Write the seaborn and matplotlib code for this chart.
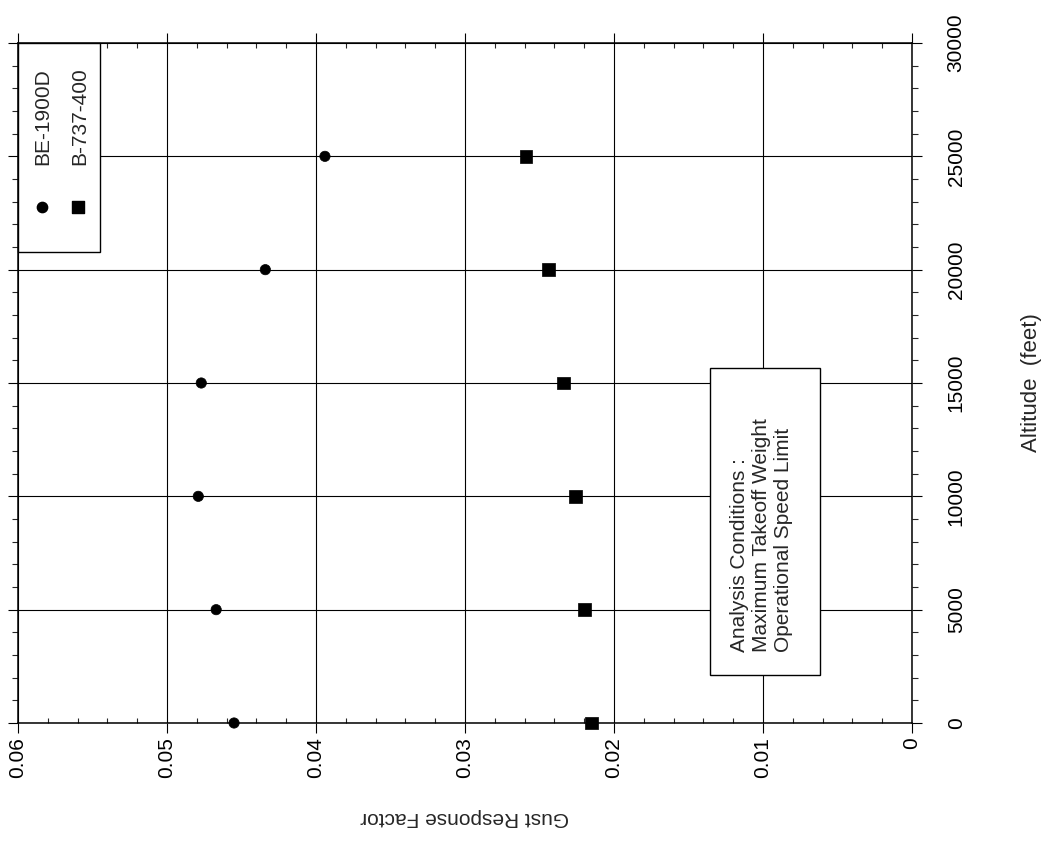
import matplotlib
matplotlib.use("Agg")
import matplotlib.pyplot as plt
import numpy as np
import pandas as pd
import seaborn as sns
from matplotlib.ticker import MultipleLocator
from matplotlib.patches import Rectangle

# ---- data ----
altitudes = [0, 5000, 10000, 15000, 20000, 25000]
be1900d = [0.0455, 0.0467, 0.0479, 0.0477, 0.0434, 0.0394]
b737_400 = [0.0215, 0.0220, 0.0226, 0.0234, 0.0244, 0.0259]
series_names = ["BE-1900D", "B-737-400"]
grf_ticks = [0, 0.01, 0.02, 0.03, 0.04, 0.05, 0.06]
grf_labels = ["0", "0.01", "0.02", "0.03", "0.04", "0.05", "0.06"]
alt_ticks = [0, 5000, 10000, 15000, 20000, 25000, 30000]
alt_labels = ["0", "5000", "10000", "15000", "20000", "25000", "30000"]
note_lines = ["Analysis Conditions :", "Maximum Takeoff Weight", "Operational Speed Limit"]

df = pd.DataFrame({
    "altitude": altitudes * 2,
    "grf": be1900d + b737_400,
    "aircraft": [series_names[0]] * len(altitudes) + [series_names[1]] * len(altitudes),
})

sns.set_style("ticks")
plt.rcParams["font.family"] = ["Liberation Sans", "DejaVu Sans"]

W, H = 1045, 846
fig = plt.figure(figsize=(W / 100, H / 100), dpi=100)
L, R, T, B = 18, 912, 43, 723
ax = fig.add_axes([L / W, (H - B) / H, (R - L) / W, (B - T) / H])

sns.scatterplot(
    data=df, x="grf", y="altitude", style="aircraft", size="aircraft",
    markers={series_names[0]: "o", series_names[1]: "s"},
    sizes={series_names[0]: 55, series_names[1]: 85},
    color="black", edgecolor="black", linewidth=0.5,
    legend=False, ax=ax, clip_on=False, zorder=3,
)

ax.set_xlim(0.06, 0)
ax.set_ylim(0, 30000)
ax.set_xticks(grf_ticks)
ax.set_xticklabels(grf_labels, rotation=90, ha="center", va="top")
ax.xaxis.set_minor_locator(MultipleLocator(0.002))
ax.set_yticks(alt_ticks)
ax.yaxis.set_minor_locator(MultipleLocator(1000))

ax.grid(True, which="major", color="black", linewidth=0.8)
ax.set_axisbelow(True)
for sp in ax.spines.values():
    sp.set_color("black")
    sp.set_linewidth(1.1)

ax.tick_params(axis="x", which="major", direction="out", length=7, width=0.8,
               top=True, bottom=True, labelbottom=True, labeltop=False,
               labelsize=15, pad=3, colors="black")
ax.tick_params(axis="x", which="minor", direction="in", length=3.6, width=0.8,
               top=True, bottom=True)
ax.tick_params(axis="y", which="major", direction="out", length=7, width=0.8,
               left=True, right=True, labelleft=False, labelright=True,
               labelsize=15, pad=18, colors="black")
ax.tick_params(axis="y", which="minor", direction="out", length=4.5, width=0.8,
               left=True, right=True)
ax.set_yticklabels(alt_labels, rotation=90, va="center", ha="left")

ax.set_xlabel("Gust Response Factor", fontsize=15, rotation=180, labelpad=22)
ax.yaxis.set_label_position("right")
ax.set_ylabel("Altitude  (feet)", fontsize=16, rotation=90, labelpad=40)

# ---- legend (rotated like the rest of the page) ----
ax.add_patch(Rectangle((0, 0.6926), 0.0917, 0.3074, transform=ax.transAxes,
                       facecolor="white", edgecolor="black", linewidth=1.0,
                       zorder=5, clip_on=False))
ax.scatter([0.0268], [0.759], transform=ax.transAxes, marker="o", s=55,
           color="black", zorder=6, clip_on=False)
ax.scatter([0.0671], [0.759], transform=ax.transAxes, marker="s", s=85,
           color="black", zorder=6, clip_on=False)
ax.text(0.028, 0.8206, series_names[0], transform=ax.transAxes, rotation=90,
        ha="center", va="bottom", fontsize=15, zorder=6)
ax.text(0.0694, 0.8206, series_names[1], transform=ax.transAxes, rotation=90,
        ha="center", va="bottom", fontsize=15, zorder=6)

# ---- analysis conditions note ----
ax.add_patch(Rectangle((0.774, 0.0706), 0.123, 0.4514, transform=ax.transAxes,
                       facecolor="white", edgecolor="black", linewidth=1.0,
                       zorder=5))
ax.text(0.8322, 0.104, "\n".join(note_lines), transform=ax.transAxes,
        rotation=90, ha="center", va="bottom", multialignment="left",
        fontsize=15, zorder=6, linespacing=1.2)

fig.savefig("out.png", dpi=100, facecolor="white")
